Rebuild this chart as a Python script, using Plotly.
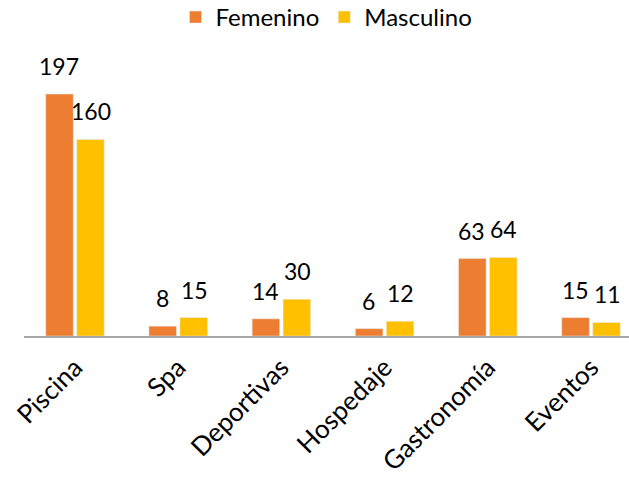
import plotly.graph_objects as go

categories = ["Piscina", "Spa", "Deportivas", "Hospedaje", "Gastronomía", "Eventos"]
femenino = [197, 8, 14, 6, 63, 15]
masculino = [160, 15, 30, 12, 64, 11]

ORANGE = "#ED7D31"
YELLOW = "#FFC000"
FONT = "Lato"
FS = 25

fig = go.Figure()
fig.add_trace(go.Bar(name="Femenino", x=categories, y=femenino, marker_color=ORANGE))
fig.add_trace(go.Bar(name="Masculino", x=categories, y=masculino, marker_color=YELLOW))

for vals, off in ((femenino, -0.155), (masculino, 0.155)):
    for i, v in enumerate(vals):
        fig.add_annotation(x=i + off, y=v, text=str(v), showarrow=False,
                           yanchor="bottom", yshift=12, xref="x", yref="y",
                           font=dict(family=FONT, size=23, color="#000000"))

fig.update_layout(
    width=629, height=480,
    margin=dict(l=24, r=0, t=40, b=144, autoexpand=False),
    barmode="group", bargap=0.4, bargroupgap=0.11,
    plot_bgcolor="white", paper_bgcolor="white",
    font=dict(family=FONT, size=FS, color="#000000"),
    legend=dict(orientation="h", x=0.5, xanchor="center", y=1.152, yanchor="top",
                yref="paper", font=dict(family=FONT, size=24)),
    showlegend=True,
)
fig.update_xaxes(type="category", range=[-0.494, 5.368], tickangle=-45, automargin=False,
                 showline=True, linecolor="#A6A6A6", linewidth=2,
                 ticks="", showgrid=False, tickfont=dict(family=FONT, size=26),
                 ticklabelstandoff=4)
fig.update_yaxes(range=[0, 241], visible=False, showgrid=False, automargin=False)

fig.write_html("out.html", config={"displayModeBar": False},
               post_script="document.body.style.margin='0';document.body.style.overflow='hidden';")
